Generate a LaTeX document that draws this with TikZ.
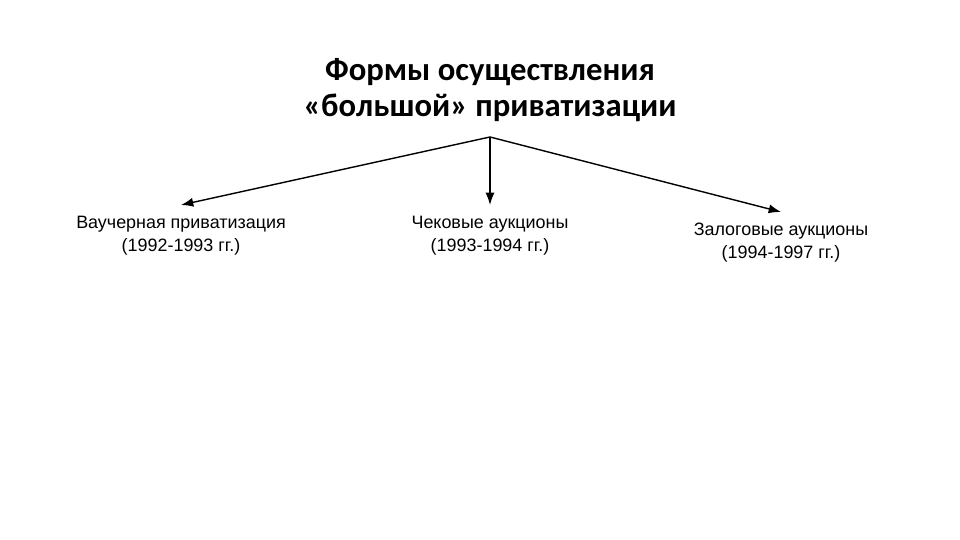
\documentclass[tikz,border=0pt]{standalone}
\usepackage{fontspec}
\setmainfont{Liberation Sans}
\newfontfamily\titlefont{Carlito}
\usetikzlibrary{arrows.meta}

\begin{document}
\begin{tikzpicture}[
form/.style={%
align=center,
font=\fontsize{5.1}{6.4}\selectfont,
inner sep=3pt
},
head/.style={%
align=center,
font=\titlefont\bfseries\fontsize{9.3}{10.3}\selectfont
}
]
\useasboundingbox(0,0)rectangle(9.6,5.4);
%% Title
\node[head]at(4.9,4.5)(title){Формы осуществления\\«большой» приватизации};
\coordinate(apex)at(4.9,4.03);
%% Forms
\node[form,anchor=north]at(1.81,3.35)(vouch){Ваучерная приватизация\\(1992-1993 гг.)};
\node[form,anchor=north]at(4.9,3.35)(cheque){Чековые аукционы\\(1993-1994 гг.)};
\node[form,anchor=north]at(7.81,3.28)(pledge){Залоговые аукционы\\(1994-1997 гг.)};
%% Arrows
\draw[-{Latex[length=3.5pt,width=2.6pt]}](apex)--(vouch.north);
\draw[-{Latex[length=3.5pt,width=2.6pt]}](apex)--(cheque.north);
\draw[-{Latex[length=3.5pt,width=2.6pt]}](apex)--(pledge.north);
\end{tikzpicture}
\end{document}
